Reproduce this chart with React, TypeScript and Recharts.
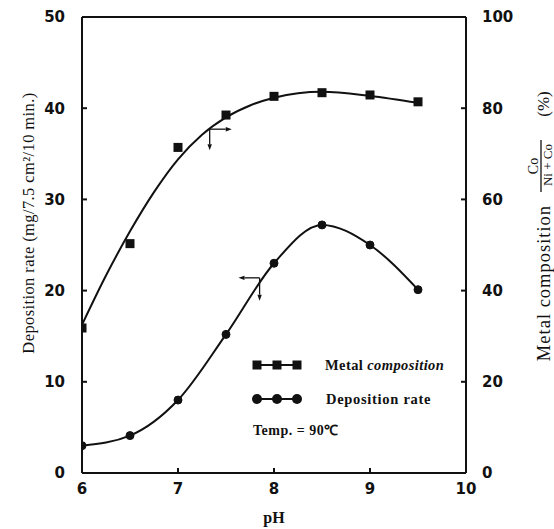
import React from "react";
import { ComposedChart, Customized, Line, ReferenceLine, XAxis, YAxis } from "recharts";

// pH of the bath, and what was measured at each one
const phValues = [6, 6.5, 7, 7.5, 8, 8.5, 9, 9.5];
const depositionRate = [3.0, 4.1, 8.0, 15.2, 23.0, 27.2, 25.0, 20.1];
const metalComposition = [31.8, 50.3, 71.4, 78.5, 82.6, 83.4, 82.9, 81.4];

// the hand-drawn fit through the composition squares (it misses a few of them)
const metalFitPh = [6, 6.25, 6.5, 6.75, 7, 7.25, 7.5, 7.75, 8, 8.25, 8.5, 9, 9.5];
const metalFit = [32.5, 43.3, 53.0, 61.6, 68.8, 74.2, 78.0, 80.6, 82.3, 83.3, 83.6, 82.7, 81.2];

const phTicks = [6, 7, 8, 9, 10];
const rateTicks = [0, 10, 20, 30, 40, 50];
const compositionTicks = [0, 20, 40, 60, 80, 100];

const rateData = phValues.map((ph, i) => ({ ph, rate: depositionRate[i] }));
const metalData = phValues.map((ph, i) => ({ ph, comp: metalComposition[i] }));
const metalFitData = metalFitPh.map((ph, i) => ({ ph, comp: metalFit[i] }));

const INK = "#111";
const SERIF = "'Liberation Serif', 'Times New Roman', serif";
const tickStyle = {
  fill: INK,
  fontSize: 15,
  fontFamily: "'DejaVu Sans', sans-serif",
  fontWeight: 700,
};

/** Line with a small filled arrowhead on its (x2, y2) end. */
function Arrow(props: any) {
  const { x1, y1, x2, y2 } = props;
  const dx = x2 - x1;
  const dy = y2 - y1;
  const len = Math.hypot(dx, dy) || 1;
  const ux = dx / len;
  const uy = dy / len;
  const bx = x2 - ux * 6;
  const by = y2 - uy * 6;
  const head = `${x2},${y2} ${bx - uy * 2.2},${by + ux * 2.2} ${bx + uy * 2.2},${by - ux * 2.2}`;
  return (
    <g>
      <line x1={x1} y1={y1} x2={bx} y2={by} stroke={INK} strokeWidth={1.3} />
      <polygon points={head} fill={INK} />
    </g>
  );
}

function Square(props: any) {
  const { cx, cy, index } = props;
  if (cx == null || cy == null) return <g key={index} />;
  return <rect key={index} x={cx - 4.5} y={cy - 4.5} width={9} height={9} fill={INK} />;
}

function Titles() {
  return (
    <g>
      <text
        x={28}
        y={223}
        transform="rotate(-90 28 223)"
        textAnchor="middle"
        dominantBaseline="central"
        fontFamily={SERIF}
        fontSize={16.5}
        letterSpacing={0.4}
        fill={INK}
      >
        Deposition rate (mg/7.5 cm²/10 min.)
      </text>
      <g transform="translate(540 232) rotate(-90)" fontFamily={SERIF} fill={INK}>
        <text x={-51} y={10} textAnchor="middle" fontSize={18.5} letterSpacing={1}>
          Metal composition
        </text>
        <text x={66} y={-2} textAnchor="middle" fontSize={14}>
          Co
        </text>
        <line x1={40} y1={1} x2={92} y2={1} stroke={INK} strokeWidth={1.3} />
        <text x={67} y={12} textAnchor="middle" fontSize={13}>
          Ni + Co
        </text>
        <text x={128} y={9} textAnchor="middle" fontSize={17}>
          (%)
        </text>
      </g>
      {/* key, drawn inside the plot */}
      <g fontFamily={SERIF} fill={INK} fontWeight={700}>
        <line x1={254} y1={365} x2={300} y2={365} stroke={INK} strokeWidth={2} />
        {[257, 277, 297].map((x) => (
          <rect key={x} x={x - 4.5} y={360.5} width={9} height={9} fill={INK} />
        ))}
        <text x={325} y={370} fontSize={14.5} letterSpacing={0.4}>
          Metal <tspan fontStyle="italic">composition</tspan>
        </text>
        <line x1={254} y1={399} x2={300} y2={399} stroke={INK} strokeWidth={2} />
        {[257, 277, 297].map((x) => (
          <circle key={x} cx={x} cy={399} r={5} fill={INK} />
        ))}
        <text x={326} y={404} fontSize={14.5} letterSpacing={0.7}>
          Deposition rate
        </text>
        <text x={253} y={435} fontSize={14} letterSpacing={0.5}>
          Temp. = 90℃
        </text>
      </g>
    </g>
  );
}

export default function App() {
  return (
    <div style={{ position: "absolute", left: 0, top: 0 }}>
      <ComposedChart width={554} height={529} margin={{ top: 17, right: 0, bottom: 0, left: 0 }}>
        <XAxis
          xAxisId={0}
          type="number"
          dataKey="ph"
          domain={[6, 10]}
          ticks={phTicks}
          allowDataOverflow
          height={56}
          stroke={INK}
          strokeWidth={2}
          tickSize={-5}
          tickMargin={15}
          tick={tickStyle}
          label={{
            value: "pH",
            position: "insideBottom",
            offset: 6,
            fill: INK,
            fontSize: 16,
            fontFamily: SERIF,
            fontWeight: 700,
          }}
        />
        <YAxis
          yAxisId="left"
          type="number"
          domain={[0, 50]}
          ticks={rateTicks}
          allowDataOverflow
          width={82}
          stroke={INK}
          strokeWidth={2}
          tickSize={-5}
          tickMargin={22}
          tick={tickStyle}
        />
        <YAxis
          yAxisId="right"
          orientation="right"
          type="number"
          domain={[0, 100]}
          ticks={compositionTicks}
          allowDataOverflow
          width={88}
          stroke={INK}
          strokeWidth={2}
          tickSize={-5}
          tickMargin={21}
          tick={tickStyle}
        />
        {/* top edge of the frame */}
        <ReferenceLine yAxisId="left" y={50} stroke={INK} strokeWidth={2} />

        <Line
          data={metalFitData}
          dataKey="comp"
          yAxisId="right"
          type="monotone"
          stroke={INK}
          strokeWidth={2}
          dot={false}
          isAnimationActive={false}
        />
        <Line
          data={metalData}
          dataKey="comp"
          yAxisId="right"
          stroke="none"
          dot={Square}
          activeDot={false}
          isAnimationActive={false}
        />
        <Line
          data={rateData}
          dataKey="rate"
          yAxisId="left"
          type="monotone"
          stroke={INK}
          strokeWidth={2}
          dot={{ r: 4, fill: INK, stroke: INK, strokeWidth: 1 }}
          activeDot={false}
          isAnimationActive={false}
        />

        {/* arrows telling which axis each curve is read on */}
        <ReferenceLine yAxisId="left" segment={[{ x: 7.33, y: 37.7 }, { x: 7.56, y: 37.7 }]} shape={Arrow} />
        <ReferenceLine yAxisId="left" segment={[{ x: 7.33, y: 37.7 }, { x: 7.33, y: 35.4 }]} shape={Arrow} />
        <ReferenceLine yAxisId="left" segment={[{ x: 7.85, y: 21.4 }, { x: 7.63, y: 21.4 }]} shape={Arrow} />
        <ReferenceLine yAxisId="left" segment={[{ x: 7.85, y: 21.4 }, { x: 7.85, y: 18.9 }]} shape={Arrow} />

        <Customized component={Titles} />
      </ComposedChart>
    </div>
  );
}
